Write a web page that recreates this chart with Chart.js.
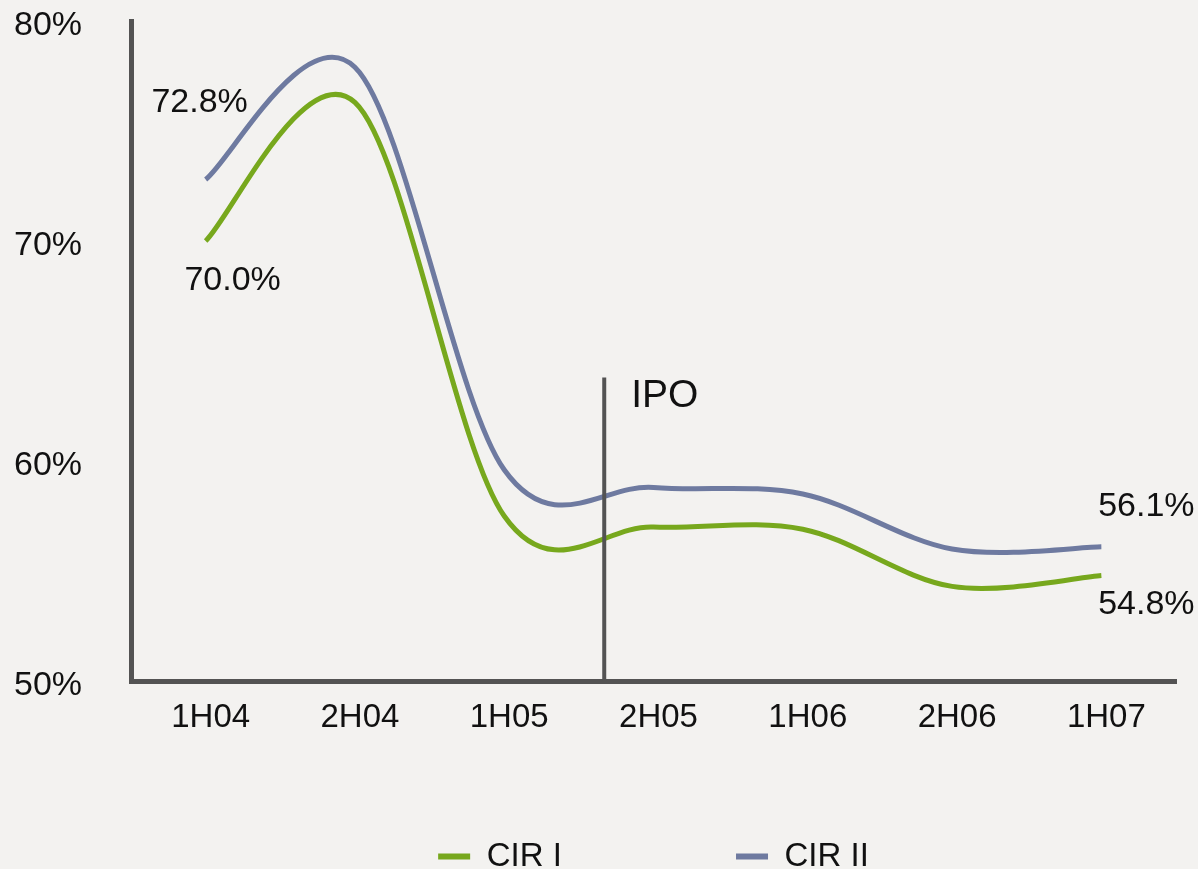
<!DOCTYPE html>
<html>
<head>
<meta charset="utf-8">
<title>CIR</title>
<script src="https://cdn.jsdelivr.net/npm/chart.js@4/dist/chart.umd.min.js"></script>
<style>
  html, body { margin: 0; padding: 0; background: #f3f2f0; overflow: hidden; }
  #wrap { width: 1198px; height: 869px; }
</style>
</head>
<body>
<div id="wrap"><canvas id="cir"></canvas></div>
<script>
const periods = ['1H04', '2H04', '1H05', '2H05', '1H06', '2H06', '1H07'];
const cirOne = [70.0, 76.3, 57.5, 57.0, 56.9, 54.3, 54.8];
const cirTwo = [72.8, 77.9, 59.6, 58.8, 58.5, 56.0, 56.1];
const yTicks = [50, 60, 70, 80];
const ipoAt = 2.67;   // category position, between 1H05 and 2H05
const ipoTop = 63.8;

const GREEN = '#77a81d';
const BLUE = '#6e7aa0';
const AXIS = '#535353';
const INK = '#111111';
const FONT = '"Liberation Sans", Arial, sans-serif';

Chart.defaults.font.family = FONT;
Chart.defaults.font.size = 33;
Chart.defaults.color = INK;

// excel style smoothing: control points at 1/6 of the neighbour difference
const excelSmooth = {
  id: 'excelSmooth',
  beforeDatasetDraw(chart, args) {
    const line = args.meta.dataset;
    const pts = args.meta.data;
    line.updateControlPoints(chart.chartArea, 'x');
    pts.forEach((p, i) => {
      const prev = pts[i - 1] || p;
      const next = pts[i + 1] || p;
      const dx = (next.x - prev.x) / 6;
      const dy = (next.y - prev.y) / 6;
      p.cp1x = p.x - dx; p.cp1y = p.y - dy;
      p.cp2x = p.x + dx; p.cp2y = p.y + dy;
    });
    line._path = undefined;
  }
};

// first / last value labels
const endLabels = [
  { ds: 1, i: 0, dx: -6, dy: -77 },
  { ds: 0, i: 0, dx: 27, dy: 40 },
  { ds: 1, i: 6, dx: 45, dy: -40 },
  { ds: 0, i: 6, dx: 45, dy: 29 }
];

const extras = {
  id: 'extras',
  afterDatasetsDraw(chart) {
    const { ctx, scales: { x, y } } = chart;
    ctx.save();
    // IPO marker
    const px = x.getPixelForValue(ipoAt);
    ctx.strokeStyle = AXIS;
    ctx.lineWidth = 4;
    ctx.beginPath();
    ctx.moveTo(px, y.getPixelForValue(ipoTop));
    ctx.lineTo(px, y.getPixelForValue(50));
    ctx.stroke();
    ctx.fillStyle = INK;
    ctx.font = '39px ' + FONT;
    ctx.textAlign = 'left';
    ctx.textBaseline = 'middle';
    ctx.fillText('IPO', px + 27, y.getPixelForValue(ipoTop) + 19);

    ctx.font = '34px ' + FONT;
    ctx.textAlign = 'center';
    endLabels.forEach(l => {
      const pt = chart.getDatasetMeta(l.ds).data[l.i];
      const v = chart.data.datasets[l.ds].data[l.i];
      ctx.fillText(v.toFixed(1) + '%', pt.x + l.dx, pt.y + l.dy);
    });
    ctx.restore();
  }
};

new Chart(document.getElementById('cir'), {
  type: 'line',
  data: {
    labels: periods,
    datasets: [
      {
        label: 'CIR I',
        data: cirOne,
        borderColor: GREEN,
        backgroundColor: GREEN,
        borderWidth: 5,
        tension: 0.4,
        pointRadius: 0,
        pointHoverRadius: 0,
        fill: false
      },
      {
        label: 'CIR II',
        data: cirTwo,
        borderColor: BLUE,
        backgroundColor: BLUE,
        borderWidth: 5,
        tension: 0.4,
        pointRadius: 0,
        pointHoverRadius: 0,
        fill: false
      }
    ]
  },
  options: {
    responsive: true,
    maintainAspectRatio: false,
    animation: false,
    layout: { padding: { left: 14, right: 22, top: 21, bottom: -14 } },
    plugins: {
      legend: {
        position: 'bottom',
        fullSize: false,
        labels: {
          padding: 0,
          boxWidth: 32,
          boxHeight: 6,
          color: INK,
          font: { size: 33 },
          generateLabels(chart) {
            const items = Chart.defaults.plugins.legend.labels.generateLabels(chart);
            items.forEach((it, i) => {
              it.lineWidth = 0;
              if (i < items.length - 1) it.text += ' '.repeat(19);
            });
            return items;
          }
        }
      },
      tooltip: { enabled: false }
    },
    scales: {
      x: {
        offset: true,
        grid: { display: false, drawTicks: false, offset: true },
        border: { display: true, color: AXIS, width: 5 },
        ticks: { padding: 17, labelOffset: 5, color: INK, maxRotation: 0 },
        afterFit: s => { s.height = 159; }
      },
      y: {
        min: 50,
        max: 80,
        afterBuildTicks: s => { s.ticks = yTicks.map(v => ({ value: v })); },
        grid: { display: false, drawTicks: false },
        border: { display: true, color: AXIS, width: 5 },
        ticks: { padding: 0, labelOffset: 5, crossAlign: 'far', color: INK, font: { size: 34 }, callback: v => v + '%' },
        afterFit: s => { s.width = 117; }
      }
    }
  },
  plugins: [excelSmooth, extras]
});
</script>
</body>
</html>
